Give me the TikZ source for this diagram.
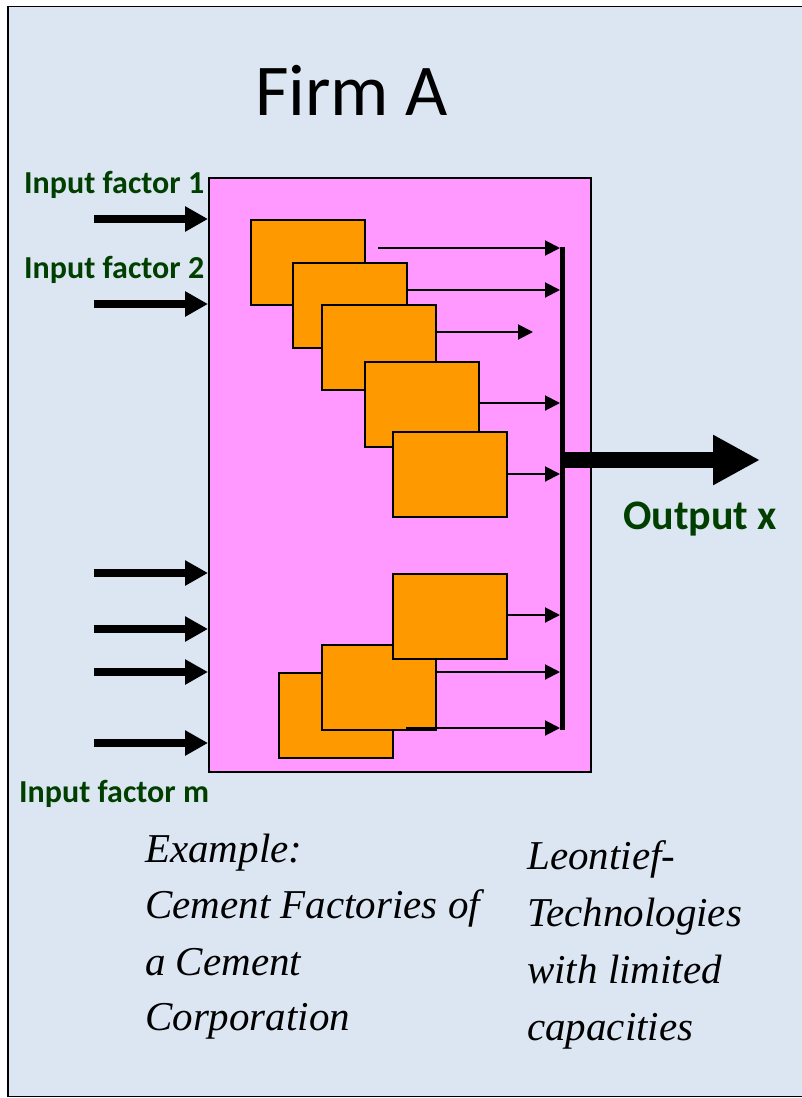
\documentclass[tikz,border=0pt]{standalone}
\usepackage{fontspec}
\setmainfont{Carlito}
\newfontfamily\italfont{Liberation Serif}
\usetikzlibrary{arrows.meta}
\definecolor{bgblue}{HTML}{DCE6F2}
\definecolor{firmpink}{HTML}{FF99FF}
\definecolor{plantorange}{HTML}{FF9900}
\definecolor{dgreen}{HTML}{003F00}
\begin{document}
\begin{tikzpicture}[x=1pt,y=-1pt,
  plant/.style={draw=black, fill=plantorange, line width=1.5pt, minimum width=114pt, minimum height=85pt, inner sep=0pt, anchor=north west},
  lab/.style={font=\bfseries\fontsize{32}{32}\selectfont, text=dgreen, inner sep=0pt, anchor=base west},
  ital/.style={font=\italfont\itshape\fontsize{41}{41}\selectfont, inner sep=0pt, anchor=base west},
  inarr/.style={line width=8pt, -{Triangle[length=23pt,width=24pt]}},
  thinarr/.style={line width=2pt, -{Triangle[length=15pt,width=15pt]}},
]
\useasboundingbox (0,0) rectangle (802,1098);
\fill[white] (0,0) rectangle (802,1098);
\draw[fill=bgblue, line width=1.5pt] (8,6.5) rectangle (830,1096.5);

\node[font=\fontsize{73}{73}\selectfont, inner sep=0pt, anchor=base west] (title) at (255,115) {Firm A};

\node[draw=black, fill=firmpink, line width=1.5pt, minimum width=382pt, minimum height=594pt, inner sep=0pt, anchor=north west] (firm) at (208,177) {};

% input arrows
\coordinate (s1) at (94,219);
\coordinate (s2) at (94,304);
\coordinate (s3) at (94,573);
\coordinate (s4) at (94,629);
\coordinate (s5) at (94,672);
\coordinate (s6) at (94,743);
\foreach \s in {s1,s2,s3,s4,s5,s6} \draw[inarr] (\s) -- (\s -| firm.west);

\node[lab] (l1) at (24,193) {Input factor 1};
\node[lab] (l2) at (24,278) {Input factor 2};
\node[lab] (lm) at (19,802) {Input factor m};

% plants
\node[plant] (b1) at (250,219) {};
\node[plant] (b2) at (292,262) {};
\node[plant] (b3) at (321,304) {};
\node[plant] (b4) at (364,361) {};
\node[plant] (b5) at (392,431) {};
\node[plant] (b8) at (278,672) {};
\node[plant] (b7) at (321,644) {};
\node[plant] (b6) at (392,573) {};

% bus
\coordinate (bt) at (562,247);
\coordinate (bb) at (562,729.5);
\coordinate (bl) at (560,247);
\draw[line width=5pt] (bt) -- (bb);

\coordinate (a1) at (378,248);
\draw[thinarr] (a1) -- (bl |- a1);
\draw[thinarr] (b2.east |- 0,290) -- (bl |- 0,290);
\coordinate (a3) at (533,332);
\draw[thinarr] (b3.east |- 0,332) -- (a3);
\draw[thinarr] (b4.east |- 0,403) -- (bl |- 0,403);
\draw[thinarr] (b5.east |- 0,474) -- (bl |- 0,474);
\draw[thinarr] (b6.east |- 0,615) -- (bl |- 0,615);
\draw[thinarr] (b7.east |- 0,672) -- (bl |- 0,672);
\coordinate (a8) at (406,728);
\draw[thinarr] (a8) -- (bl |- a8);

% output
\coordinate (os) at (562,460);
\coordinate (oe) at (760,460);
\draw[line width=16pt, -{Triangle[length=47pt,width=47pt]}] (os) -- (oe);
\node[lab, font=\bfseries\fontsize{42}{42}\selectfont] (out) at (623,529) {Output x};

% italic texts
\node[ital] (e1) at (145,862) {Example:};
\node[ital] (e2) at (145,918) {Cement Factories of};
\node[ital] (e3) at (145,975) {a Cement};
\node[ital] (e4) at (145,1030) {Corporation};
\node[ital] (t1) at (527,869) {Leontief-};
\node[ital] (t2) at (527,926) {Technologies};
\node[ital] (t3) at (527,983) {with limited};
\node[ital] (t4) at (527,1040) {capacities};
\end{tikzpicture}
\end{document}
